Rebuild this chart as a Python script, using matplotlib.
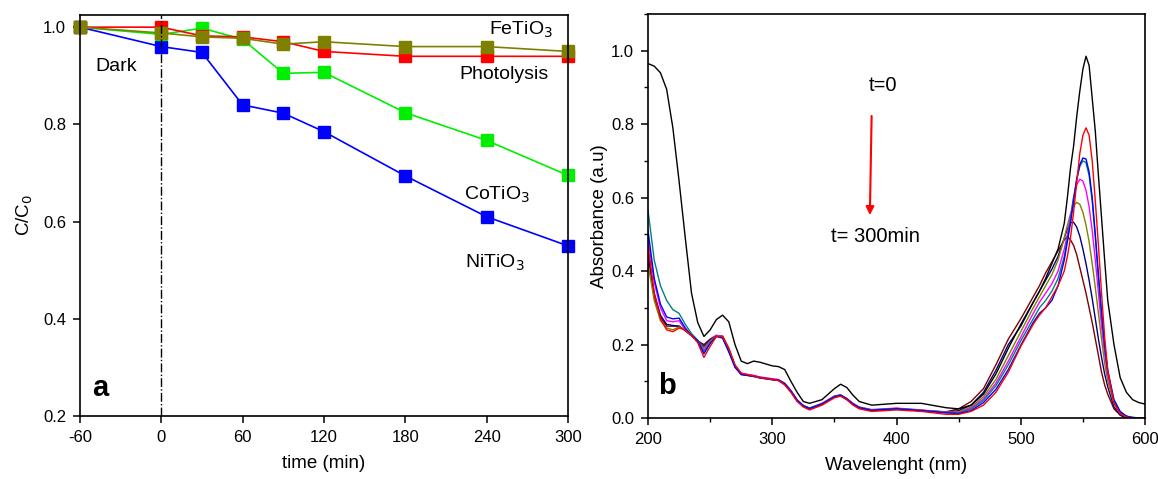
import matplotlib
matplotlib.use("Agg")
import matplotlib.pyplot as plt
from matplotlib.ticker import MultipleLocator

plt.rcParams['font.family'] = ['Liberation Sans', 'DejaVu Sans']
plt.rcParams['axes.unicode_minus'] = False

# ---- panel a: C/C0 vs time ----
time_min = [-60, 0, 30, 60, 90, 120, 180, 240, 300]
ni_tio3 = [1.0, 0.960, 0.948, 0.840, 0.823, 0.785, 0.694, 0.610, 0.550]
co_tio3 = [1.0, 0.985, 0.998, 0.975, 0.905, 0.907, 0.824, 0.767, 0.695]
photolysis = [1.0, 1.0, 0.982, 0.980, 0.970, 0.950, 0.940, 0.940, 0.940]
fe_tio3 = [1.0, 0.988, 0.980, 0.977, 0.965, 0.970, 0.960, 0.960, 0.950]

# ---- panel b: absorbance spectra ----
wavelength = [200, 205, 210, 215, 220, 225, 230, 235, 240, 245, 250, 255, 260, 265,
              270, 275, 280, 285, 290, 300, 305, 310, 315, 320, 325, 330, 340, 350,
              355, 360, 365, 370, 380, 400, 420, 440, 450, 460, 470, 480, 490, 500,
              510, 515, 520, 525, 530, 535, 537.5, 540, 542.5, 545, 547.5, 550, 552.5,
              555, 557.5, 560, 562.5, 565, 567.5, 570, 575, 580, 585, 590, 595, 600]

abs_t0 = [0.965, 0.958, 0.94, 0.895, 0.79, 0.645, 0.49, 0.34, 0.26, 0.222, 0.24, 0.268, 0.28, 0.262,
          0.20, 0.155, 0.148, 0.155, 0.152, 0.142, 0.14, 0.132, 0.10, 0.07, 0.045, 0.04, 0.05, 0.08,
          0.092, 0.083, 0.062, 0.045, 0.035, 0.04, 0.04, 0.028, 0.025, 0.035, 0.065, 0.12, 0.19, 0.255,
          0.315, 0.345, 0.38, 0.42, 0.46, 0.53, 0.60, 0.68, 0.74, 0.82, 0.89, 0.95, 0.985,
          0.96, 0.87, 0.78, 0.66, 0.545, 0.43, 0.32, 0.20, 0.11, 0.07, 0.05, 0.042, 0.038]
abs_red = [0.47, 0.34, 0.27, 0.24, 0.235, 0.245, 0.24, 0.225, 0.205, 0.165, 0.195, 0.222, 0.222, 0.19,
           0.145, 0.122, 0.118, 0.115, 0.11, 0.105, 0.102, 0.09, 0.07, 0.045, 0.03, 0.022, 0.035, 0.055,
           0.06, 0.05, 0.035, 0.025, 0.018, 0.022, 0.018, 0.01, 0.01, 0.018, 0.035, 0.07, 0.125, 0.195,
           0.255, 0.28, 0.30, 0.33, 0.36, 0.40, 0.44, 0.49, 0.56, 0.64, 0.72, 0.77, 0.79,
           0.77, 0.70, 0.59, 0.47, 0.34, 0.22, 0.13, 0.04, 0.012, 0.003, 0.0, 0.0, 0.0]
abs_blue = [0.51, 0.38, 0.31, 0.275, 0.27, 0.272, 0.245, 0.225, 0.21, 0.175, 0.203, 0.222, 0.218, 0.18,
            0.138, 0.118, 0.116, 0.114, 0.11, 0.105, 0.103, 0.093, 0.073, 0.048, 0.033, 0.026, 0.038, 0.058,
            0.062, 0.052, 0.038, 0.028, 0.021, 0.025, 0.02, 0.014, 0.012, 0.02, 0.042, 0.078, 0.132, 0.198,
            0.26, 0.285, 0.30, 0.32, 0.36, 0.43, 0.48, 0.53, 0.59, 0.65, 0.69, 0.708, 0.705,
            0.67, 0.60, 0.50, 0.39, 0.29, 0.20, 0.13, 0.05, 0.018, 0.005, 0.002, 0.0, 0.0]
abs_teal = [0.565, 0.43, 0.36, 0.32, 0.295, 0.285, 0.255, 0.23, 0.212, 0.18, 0.205, 0.223, 0.218, 0.182,
            0.14, 0.12, 0.117, 0.114, 0.11, 0.105, 0.103, 0.094, 0.074, 0.049, 0.034, 0.027, 0.039, 0.059,
            0.063, 0.053, 0.039, 0.029, 0.022, 0.026, 0.021, 0.015, 0.014, 0.024, 0.048, 0.088, 0.145, 0.21,
            0.27, 0.30, 0.32, 0.345, 0.38, 0.44, 0.49, 0.54, 0.60, 0.65, 0.685, 0.70, 0.695,
            0.66, 0.59, 0.49, 0.38, 0.28, 0.19, 0.125, 0.045, 0.015, 0.005, 0.0, 0.0, 0.0]
abs_magenta = [0.49, 0.37, 0.30, 0.265, 0.262, 0.265, 0.24, 0.225, 0.21, 0.185, 0.207, 0.225, 0.222, 0.185,
               0.142, 0.122, 0.119, 0.116, 0.112, 0.107, 0.105, 0.095, 0.075, 0.05, 0.034, 0.027, 0.04, 0.06,
               0.063, 0.053, 0.04, 0.03, 0.023, 0.027, 0.022, 0.016, 0.015, 0.027, 0.052, 0.095, 0.155, 0.22,
               0.285, 0.315, 0.34, 0.365, 0.40, 0.46, 0.50, 0.55, 0.60, 0.635, 0.65, 0.645, 0.62,
               0.575, 0.51, 0.43, 0.34, 0.25, 0.175, 0.115, 0.045, 0.015, 0.005, 0.0, 0.0, 0.0]
abs_olive = [0.42, 0.32, 0.265, 0.245, 0.24, 0.248, 0.24, 0.225, 0.21, 0.19, 0.21, 0.224, 0.224, 0.19,
             0.143, 0.121, 0.118, 0.115, 0.111, 0.106, 0.104, 0.094, 0.074, 0.049, 0.033, 0.026, 0.039, 0.059,
             0.062, 0.052, 0.039, 0.029, 0.022, 0.026, 0.021, 0.016, 0.017, 0.03, 0.058, 0.105, 0.17, 0.235,
             0.30, 0.33, 0.36, 0.39, 0.43, 0.49, 0.525, 0.555, 0.578, 0.587, 0.582, 0.56, 0.525,
             0.48, 0.42, 0.355, 0.285, 0.215, 0.15, 0.10, 0.04, 0.012, 0.003, 0.0, 0.0, 0.0]
abs_navy = [0.45, 0.34, 0.28, 0.255, 0.252, 0.25, 0.238, 0.224, 0.21, 0.195, 0.212, 0.224, 0.222, 0.187,
            0.142, 0.12, 0.117, 0.114, 0.11, 0.105, 0.103, 0.093, 0.073, 0.048, 0.033, 0.026, 0.038, 0.058,
            0.061, 0.051, 0.038, 0.028, 0.021, 0.025, 0.02, 0.016, 0.02, 0.035, 0.07, 0.13, 0.2, 0.25,
            0.315, 0.345, 0.375, 0.405, 0.44, 0.49, 0.515, 0.532, 0.533, 0.52, 0.495, 0.46, 0.42,
            0.375, 0.325, 0.27, 0.215, 0.165, 0.12, 0.085, 0.03, 0.008, 0.0, 0.0, 0.0, 0.0]
abs_brown = [0.44, 0.33, 0.275, 0.25, 0.25, 0.25, 0.238, 0.224, 0.21, 0.2, 0.215, 0.225, 0.222, 0.186,
             0.141, 0.119, 0.116, 0.113, 0.109, 0.104, 0.102, 0.092, 0.072, 0.047, 0.032, 0.025, 0.037, 0.057,
             0.06, 0.05, 0.037, 0.027, 0.02, 0.024, 0.02, 0.017, 0.025, 0.045, 0.08, 0.145, 0.215, 0.27,
             0.33, 0.36, 0.395, 0.425, 0.455, 0.485, 0.494, 0.485, 0.47, 0.445, 0.41, 0.375, 0.34,
             0.30, 0.26, 0.215, 0.17, 0.125, 0.09, 0.065, 0.025, 0.008, 0.0, 0.0, 0.0, 0.0]

fig = plt.figure(figsize=(11.58, 4.79), dpi=100)
ax1 = fig.add_axes([0.069, 0.1315, 0.4215, 0.8372])
ax2 = fig.add_axes([0.5596, 0.1273, 0.4292, 0.8435])

# panel a
series = [(ni_tio3, '#0000ff'), (co_tio3, '#00ee00'), (photolysis, '#ff0000'), (fe_tio3, '#808000')]
for vals, col in series:
    ax1.plot(time_min, vals, color=col, lw=1.2, marker='s', ms=9, mec=col, mfc=col, clip_on=False)
ax1.axvline(0, color='black', lw=1.0, ls='-.')
ax1.set_xlim(-60, 300)
ax1.set_ylim(0.2, 1.025)
ax1.set_xticks([-60, 0, 60, 120, 180, 240, 300])
ax1.set_yticks([0.2, 0.4, 0.6, 0.8, 1.0])
ax1.set_xlabel('time (min)', fontsize=13.5, labelpad=7)
ax1.set_ylabel('C/C$_0$', fontsize=13.5, labelpad=6)
ax1.text(-33, 0.92, 'Dark', fontsize=14, ha='center', va='center')
ax1.text(265, 0.995, 'FeTiO$_3$', fontsize=14, ha='center', va='center')
ax1.text(253, 0.903, 'Photolysis', fontsize=14, ha='center', va='center')
ax1.text(248, 0.655, 'CoTiO$_3$', fontsize=14, ha='center', va='center')
ax1.text(246, 0.515, 'NiTiO$_3$', fontsize=14, ha='center', va='center')
ax1.text(-45, 0.257, 'a', fontsize=21, fontweight='bold', ha='center', va='center')

# panel b
spectra = [(abs_brown, '#800000'), (abs_navy, '#000080'), (abs_olive, '#808000'),
           (abs_magenta, '#ff00ff'), (abs_teal, '#008080'), (abs_blue, '#0000ff'),
           (abs_red, '#ff0000'), (abs_t0, '#000000')]
for vals, col in spectra:
    ax2.plot(wavelength, vals, color=col, lw=1.0)
ax2.set_xlim(200, 600)
ax2.set_ylim(0, 1.1)
ax2.set_xticks([200, 300, 400, 500, 600])
ax2.set_yticks([0.0, 0.2, 0.4, 0.6, 0.8, 1.0])
ax2.xaxis.set_minor_locator(MultipleLocator(50))
ax2.yaxis.set_minor_locator(MultipleLocator(0.1))
ax2.set_xlabel('Wavelenght (nm)', fontsize=13.5, labelpad=7)
ax2.set_ylabel('Absorbance (a.u)', fontsize=13.5, labelpad=2)
ax2.text(389, 0.905, 't=0', fontsize=14.5, ha='center', va='center')
ax2.annotate('', xy=(378.5, 0.545), xytext=(380, 0.83),
             arrowprops=dict(arrowstyle='-|>', color='red', lw=1.5, mutation_scale=12))
ax2.text(383, 0.495, 't= 300min', fontsize=14.5, ha='center', va='center')
ax2.text(215, 0.087, 'b', fontsize=21, fontweight='bold', ha='center', va='center')

for ax in (ax1, ax2):
    for sp in ax.spines.values():
        sp.set_linewidth(1.2)
    ax.tick_params(which='major', direction='out', length=5, width=1.1, labelsize=12, pad=5)
    ax.tick_params(which='minor', direction='out', length=3, width=1.0)

fig.savefig('out.png', dpi=100)
